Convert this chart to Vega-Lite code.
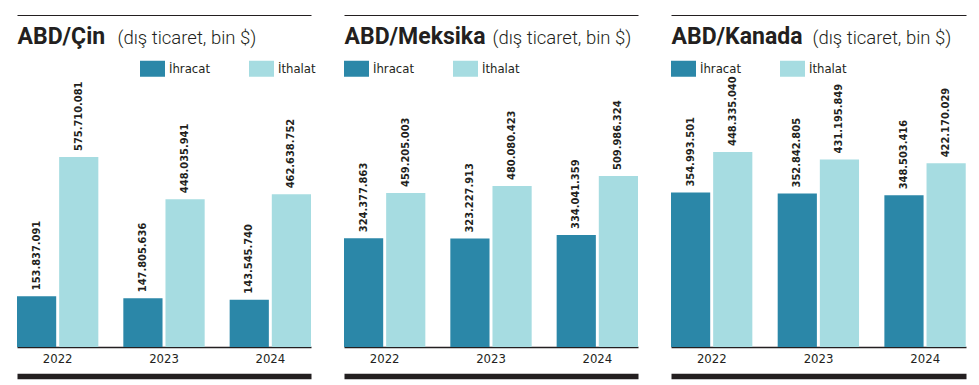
{
  "$schema": "https://vega.github.io/schema/vega-lite/v6.json",
  "padding": {"left": 17, "top": 15, "right": 5, "bottom": 5},
  "spacing": 33,
  "bounds": "flush",
  "resolve": {"scale": {"color": "independent"}, "legend": {"color": "independent"}},
  "config": {
    "locale": {"number": {"decimal": ",", "thousands": ".", "grouping": [3], "currency": ["", "$"]}},
    "view": {"stroke": null},
    "text": {"font": "DejaVu Sans Condensed", "fontWeight": "bold", "fontSize": 11, "fill": "#231f20"}
  },
  "hconcat": [
    {
      "width": 294, "height": 332,
      "data": {"values": [
        {"year": "2022", "type": "İhracat", "value": 153837091},
        {"year": "2022", "type": "İthalat", "value": 575710081},
        {"year": "2023", "type": "İhracat", "value": 147805636},
        {"year": "2023", "type": "İthalat", "value": 448035941},
        {"year": "2024", "type": "İhracat", "value": 143545740},
        {"year": "2024", "type": "İthalat", "value": 462638752}
      ]},
      "resolve": {"axis": {"x": "independent", "y": "independent"}},
      "layer": [
        {
          "mark": {"type": "bar"},
          "encoding": {
            "x": {"field": "year", "type": "ordinal", "scale": {"paddingInner": 0.235, "paddingOuter": 0},
              "axis": {"orient": "bottom", "title": null, "ticks": false, "labelAngle": 0, "domainColor": "#231f20", "domainWidth": 1.5, "labelFont": "DejaVu Sans Condensed", "labelFontSize": 13, "labelColor": "#231f20", "labelPadding": 5}},
            "xOffset": {"field": "type", "scale": {"paddingInner": 0.07, "paddingOuter": 0}},
            "y": {"field": "value", "type": "quantitative", "scale": {"domain": [0, 1006000000], "nice": false},
              "axis": {"title": "(dış ticaret, bin $)", "domain": false, "ticks": false, "labels": false, "grid": false, "titleAngle": 0, "titleX": 100, "titleY": 28, "titleAlign": "left", "titleBaseline": "alphabetic", "titleFont": "Roboto", "titleFontWeight": 300, "titleFontSize": 18.5, "titleColor": "#231f20"}},
            "color": {"field": "type", "type": "nominal", "scale": {"domain": ["İhracat", "İthalat"], "range": ["#2b87a8", "#a6dce1"]},
              "legend": {"orient": "none", "legendX": 123, "legendY": 41, "direction": "horizontal", "title": null, "symbolType": "M-1,-0.64H1V0.64H-1Z", "symbolSize": 625, "symbolStrokeWidth": 0, "symbolOpacity": 1, "labelFont": "DejaVu Sans Condensed", "labelFontSize": 13, "labelColor": "#231f20", "labelOffset": 4, "columnPadding": 38, "padding": 0}}
          }
        },
        {
          "mark": {"type": "text", "angle": 270, "align": "left", "baseline": "middle", "dx": 6},
          "encoding": {
            "x": {"field": "year", "type": "ordinal", "scale": {"paddingInner": 0.235, "paddingOuter": 0},
              "axis": {"orient": "top", "title": "ABD/Çin", "titleX": 0, "titleY": 28, "titleAlign": "left", "titleBaseline": "alphabetic", "titleFont": "Roboto", "titleFontWeight": 700, "titleFontSize": 23, "titleColor": "#231f20", "labels": false, "ticks": false, "domainColor": "#231f20", "domainWidth": 1}},
            "xOffset": {"field": "type", "scale": {"paddingInner": 0.07, "paddingOuter": 0}},
            "y": {"field": "value", "type": "quantitative", "scale": {"domain": [0, 1006000000], "nice": false}, "axis": null},
            "text": {"field": "value", "type": "quantitative", "format": ",.0f"}
          }
        },
        {
          "mark": {"type": "tick", "opacity": 0},
          "encoding": {
            "x": {"field": "year", "type": "ordinal", "scale": {"paddingInner": 0.235, "paddingOuter": 0},
              "axis": {"orient": "bottom", "offset": 29, "title": null, "labels": false, "ticks": false, "domainColor": "#231f20", "domainWidth": 5.5}}
          }
        }
      ]
    },
    {
      "width": 294, "height": 332,
      "data": {"values": [
        {"year": "2022", "type": "İhracat", "value": 324377863},
        {"year": "2022", "type": "İthalat", "value": 459205003},
        {"year": "2023", "type": "İhracat", "value": 323227913},
        {"year": "2023", "type": "İthalat", "value": 480080423},
        {"year": "2024", "type": "İhracat", "value": 334041359},
        {"year": "2024", "type": "İthalat", "value": 509986324}
      ]},
      "resolve": {"axis": {"x": "independent", "y": "independent"}},
      "layer": [
        {
          "mark": {"type": "bar"},
          "encoding": {
            "x": {"field": "year", "type": "ordinal", "scale": {"paddingInner": 0.235, "paddingOuter": 0},
              "axis": {"orient": "bottom", "title": null, "ticks": false, "labelAngle": 0, "domainColor": "#231f20", "domainWidth": 1.5, "labelFont": "DejaVu Sans Condensed", "labelFontSize": 13, "labelColor": "#231f20", "labelPadding": 5}},
            "xOffset": {"field": "type", "scale": {"paddingInner": 0.07, "paddingOuter": 0}},
            "y": {"field": "value", "type": "quantitative", "scale": {"domain": [0, 990000000], "nice": false},
              "axis": {"title": "(dış ticaret, bin $)", "domain": false, "ticks": false, "labels": false, "grid": false, "titleAngle": 0, "titleX": 148, "titleY": 28, "titleAlign": "left", "titleBaseline": "alphabetic", "titleFont": "Roboto", "titleFontWeight": 300, "titleFontSize": 18.5, "titleColor": "#231f20"}},
            "color": {"field": "type", "type": "nominal", "scale": {"domain": ["İhracat", "İthalat"], "range": ["#2b87a8", "#a6dce1"]},
              "legend": {"orient": "none", "legendX": 0, "legendY": 41, "direction": "horizontal", "title": null, "symbolType": "M-1,-0.64H1V0.64H-1Z", "symbolSize": 625, "symbolStrokeWidth": 0, "symbolOpacity": 1, "labelFont": "DejaVu Sans Condensed", "labelFontSize": 13, "labelColor": "#231f20", "labelOffset": 4, "columnPadding": 38, "padding": 0}}
          }
        },
        {
          "mark": {"type": "text", "angle": 270, "align": "left", "baseline": "middle", "dx": 6},
          "encoding": {
            "x": {"field": "year", "type": "ordinal", "scale": {"paddingInner": 0.235, "paddingOuter": 0},
              "axis": {"orient": "top", "title": "ABD/Meksika", "titleX": 0, "titleY": 28, "titleAlign": "left", "titleBaseline": "alphabetic", "titleFont": "Roboto", "titleFontWeight": 700, "titleFontSize": 23, "titleColor": "#231f20", "labels": false, "ticks": false, "domainColor": "#231f20", "domainWidth": 1}},
            "xOffset": {"field": "type", "scale": {"paddingInner": 0.07, "paddingOuter": 0}},
            "y": {"field": "value", "type": "quantitative", "scale": {"domain": [0, 990000000], "nice": false}, "axis": null},
            "text": {"field": "value", "type": "quantitative", "format": ",.0f"}
          }
        },
        {
          "mark": {"type": "tick", "opacity": 0},
          "encoding": {
            "x": {"field": "year", "type": "ordinal", "scale": {"paddingInner": 0.235, "paddingOuter": 0},
              "axis": {"orient": "bottom", "offset": 29, "title": null, "labels": false, "ticks": false, "domainColor": "#231f20", "domainWidth": 5.5}}
          }
        }
      ]
    },
    {
      "width": 295, "height": 332,
      "data": {"values": [
        {"year": "2022", "type": "İhracat", "value": 354993501},
        {"year": "2022", "type": "İthalat", "value": 448335040},
        {"year": "2023", "type": "İhracat", "value": 352842805},
        {"year": "2023", "type": "İthalat", "value": 431195849},
        {"year": "2024", "type": "İhracat", "value": 348503416},
        {"year": "2024", "type": "İthalat", "value": 422170029}
      ]},
      "resolve": {"axis": {"x": "independent", "y": "independent"}},
      "layer": [
        {
          "mark": {"type": "bar"},
          "encoding": {
            "x": {"field": "year", "type": "ordinal", "scale": {"paddingInner": 0.235, "paddingOuter": 0},
              "axis": {"orient": "bottom", "title": null, "ticks": false, "labelAngle": 0, "domainColor": "#231f20", "domainWidth": 1.5, "labelFont": "DejaVu Sans Condensed", "labelFontSize": 13, "labelColor": "#231f20", "labelPadding": 5}},
            "xOffset": {"field": "type", "scale": {"paddingInner": 0.07, "paddingOuter": 0}},
            "y": {"field": "value", "type": "quantitative", "scale": {"domain": [0, 763000000], "nice": false},
              "axis": {"title": "(dış ticaret, bin $)", "domain": false, "ticks": false, "labels": false, "grid": false, "titleAngle": 0, "titleX": 141, "titleY": 28, "titleAlign": "left", "titleBaseline": "alphabetic", "titleFont": "Roboto", "titleFontWeight": 300, "titleFontSize": 18.5, "titleColor": "#231f20"}},
            "color": {"field": "type", "type": "nominal", "scale": {"domain": ["İhracat", "İthalat"], "range": ["#2b87a8", "#a6dce1"]},
              "legend": {"orient": "none", "legendX": 0, "legendY": 41, "direction": "horizontal", "title": null, "symbolType": "M-1,-0.64H1V0.64H-1Z", "symbolSize": 625, "symbolStrokeWidth": 0, "symbolOpacity": 1, "labelFont": "DejaVu Sans Condensed", "labelFontSize": 13, "labelColor": "#231f20", "labelOffset": 4, "columnPadding": 38, "padding": 0}}
          }
        },
        {
          "mark": {"type": "text", "angle": 270, "align": "left", "baseline": "middle", "dx": 6},
          "encoding": {
            "x": {"field": "year", "type": "ordinal", "scale": {"paddingInner": 0.235, "paddingOuter": 0},
              "axis": {"orient": "top", "title": "ABD/Kanada", "titleX": 0, "titleY": 28, "titleAlign": "left", "titleBaseline": "alphabetic", "titleFont": "Roboto", "titleFontWeight": 700, "titleFontSize": 23, "titleColor": "#231f20", "labels": false, "ticks": false, "domainColor": "#231f20", "domainWidth": 1}},
            "xOffset": {"field": "type", "scale": {"paddingInner": 0.07, "paddingOuter": 0}},
            "y": {"field": "value", "type": "quantitative", "scale": {"domain": [0, 763000000], "nice": false}, "axis": null},
            "text": {"field": "value", "type": "quantitative", "format": ",.0f"}
          }
        },
        {
          "mark": {"type": "tick", "opacity": 0},
          "encoding": {
            "x": {"field": "year", "type": "ordinal", "scale": {"paddingInner": 0.235, "paddingOuter": 0},
              "axis": {"orient": "bottom", "offset": 29, "title": null, "labels": false, "ticks": false, "domainColor": "#231f20", "domainWidth": 5.5}}
          }
        }
      ]
    }
  ]
}
